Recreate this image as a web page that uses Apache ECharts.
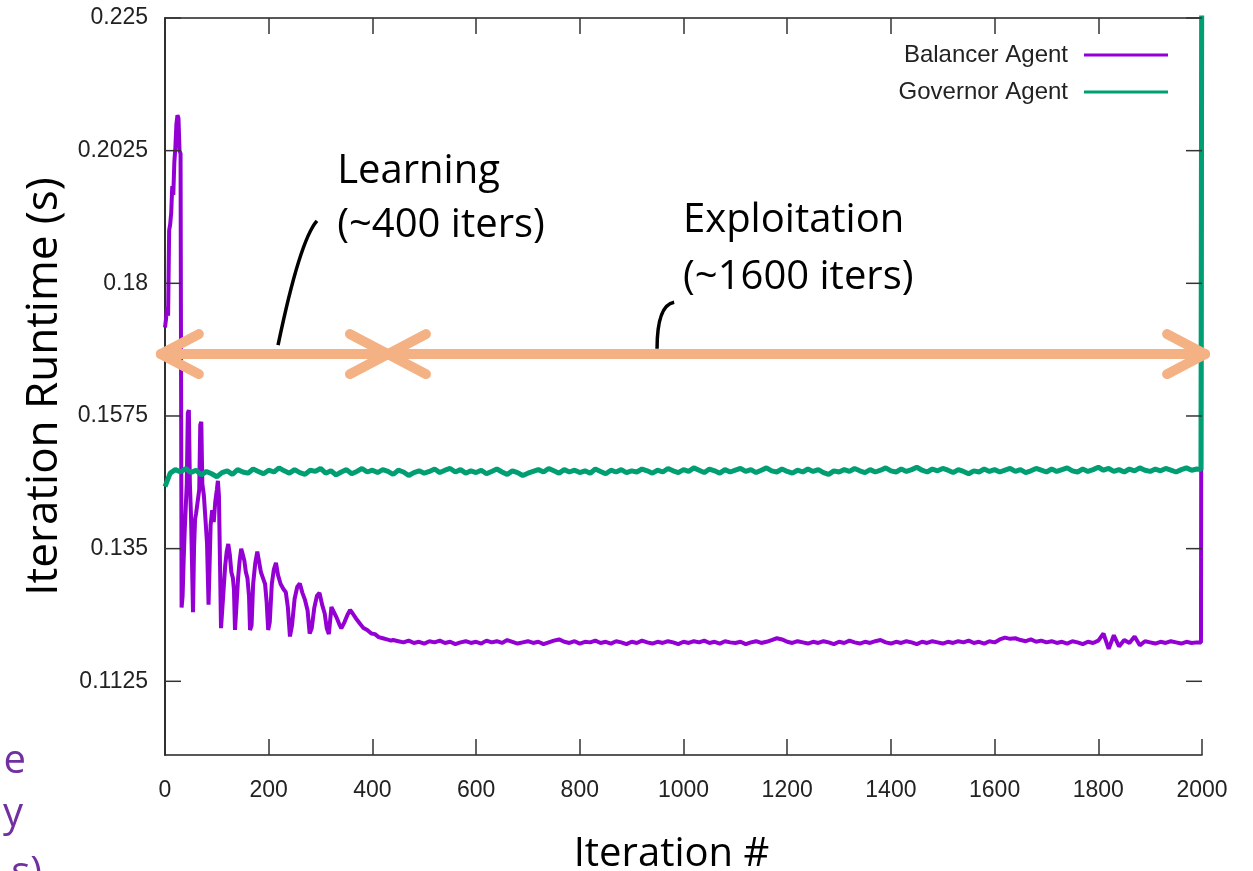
<!DOCTYPE html>
<html>
<head>
<meta charset="utf-8">
<script src="https://cdn.jsdelivr.net/npm/echarts@6/dist/echarts.min.js"></script>
<style>
	html, body { margin: 0; padding: 0; background: #fff; }
	#runtime_chart { width: 1253px; height: 871px; }
</style>
</head>
<body>
<div id="runtime_chart"></div>
<script>
// learning phase of the balancer agent, read point by point (iteration, seconds)
var balancerLearnIters = [
	0, 2, 4, 6, 8, 10, 12, 14, 16, 18, 20, 22, 24, 26, 28, 30, 32, 34, 36, 38,
	40, 42, 44, 46, 48, 50, 52, 54, 56, 58, 60, 63, 66, 68, 70, 72, 75, 78, 81, 84,
	86, 88, 91, 94, 97, 100, 102, 104, 106, 108, 111, 113, 116, 119, 122, 125, 128, 131, 133, 135,
	138, 141, 144, 147, 150, 153, 156, 159, 162, 164, 167, 170, 174, 178, 181, 185, 189, 193, 196, 199,
	202, 206, 210, 214, 218, 223, 228, 233, 237, 241, 245, 250, 255, 260, 265, 270, 275, 279, 283, 288,
	293, 298, 303, 308, 312, 316, 321, 326, 331, 336, 340, 346, 352, 357, 362, 368, 375, 382, 390, 398,
	405, 412, 420, 428, 436
];
var balancerLearnValues = [
	0.1725, 0.1740, 0.1760, 0.1745, 0.1890, 0.1900, 0.1920, 0.1965, 0.1950, 0.2005, 0.2030, 0.2070, 0.2085, 0.2080, 0.2025, 0.2020, 0.1250, 0.1270, 0.1330, 0.1380,
	0.1420, 0.1460, 0.1580, 0.1585, 0.1460, 0.1410, 0.1330, 0.1242, 0.1350, 0.1400, 0.1410, 0.1430, 0.1450, 0.1560, 0.1565, 0.1460, 0.1440, 0.1400, 0.1360, 0.1255,
	0.1252, 0.1390, 0.1415, 0.1395, 0.1430, 0.1450, 0.1465, 0.1440, 0.1330, 0.1215, 0.1212, 0.1280, 0.1320, 0.1345, 0.1358, 0.1340, 0.1310, 0.1300, 0.1280, 0.1212,
	0.1215, 0.1300, 0.1330, 0.1350, 0.1340, 0.1330, 0.1310, 0.1300, 0.1270, 0.1212, 0.1220, 0.1290, 0.1325, 0.1345, 0.1330, 0.1310, 0.1300, 0.1290, 0.1260, 0.1212,
	0.1225, 0.1290, 0.1315, 0.1326, 0.1305, 0.1290, 0.1282, 0.1276, 0.1250, 0.1201, 0.1220, 0.1265, 0.1285, 0.1291, 0.1275, 0.1263, 0.1245, 0.1206, 0.1215, 0.1250,
	0.1270, 0.1275, 0.1255, 0.1240, 0.1215, 0.1205, 0.1251, 0.1242, 0.1233, 0.1222, 0.1215, 0.1225, 0.1238, 0.1246, 0.1240, 0.1232, 0.1224, 0.1216, 0.1212, 0.1206,
	0.1205, 0.1200, 0.1198, 0.1196, 0.1194
];

// exploitation phase, one reading every 10 iterations from 440 to 1990 (units of 0.0001 s)
var balancerSteadyStart = 440;
var balancerSteady = [
	1195, 1193, 1191, 1194, 1190, 1192, 1189, 1193, 1191, 1194,
	1190, 1192, 1188, 1191, 1193, 1190, 1192, 1189, 1194, 1191,
	1193, 1190, 1195, 1192, 1189, 1191, 1193, 1190, 1192, 1188,
	1191, 1194, 1196, 1192, 1190, 1193, 1189, 1192, 1191, 1194,
	1190, 1192, 1189, 1193, 1191, 1188, 1192, 1190, 1194, 1191,
	1189, 1192, 1190, 1193, 1191, 1188, 1192, 1190, 1193, 1191,
	1194, 1190, 1192, 1189, 1193, 1191, 1190, 1192, 1188, 1191,
	1193, 1190, 1192, 1195, 1198, 1196, 1192, 1190, 1193, 1191,
	1189, 1192, 1190, 1193, 1191, 1188, 1192, 1190, 1194, 1191,
	1189, 1192, 1190, 1193, 1195, 1191, 1189, 1192, 1190, 1193,
	1191, 1188, 1192, 1190, 1193, 1191, 1189, 1192, 1190, 1193,
	1191, 1194, 1190, 1192, 1189, 1193, 1191, 1196, 1199, 1197,
	1198, 1195, 1193, 1196, 1192, 1194, 1191, 1193, 1190, 1192,
	1189, 1193, 1191, 1188, 1192, 1190, 1194, 1206, 1180, 1203,
	1184, 1195, 1190, 1201, 1186, 1193, 1191, 1189, 1192, 1190,
	1193, 1191, 1189, 1192, 1190, 1191
];
// last iterations: the final run shoots off the top of the plot
var balancerTail = [[1998, 0.1191], [2000, 0.26]];

// governor agent, one reading every 10 iterations from 0 to 1990 (units of 0.0001 s)
var governorStep = 10;
var governorValues = [
	1455,
	1478, 1484, 1480, 1486, 1479, 1483, 1475, 1481, 1477, 1472,
	1479, 1482, 1476, 1484, 1480, 1478, 1485, 1481, 1477, 1483,
	1480, 1487, 1482, 1478, 1484, 1479, 1476, 1483, 1481, 1486,
	1478, 1482, 1475, 1480, 1484, 1477, 1481, 1486, 1480, 1483,
	1479, 1484, 1481, 1476, 1483, 1480, 1474, 1479, 1482, 1478,
	1481, 1485, 1479, 1483, 1486, 1480, 1484, 1478, 1482, 1479,
	1483, 1477, 1481, 1485, 1480, 1476, 1482, 1479, 1474, 1478,
	1481, 1484, 1480, 1486, 1482, 1478, 1484, 1480, 1483, 1479,
	1482, 1478, 1485, 1481, 1477, 1483, 1480, 1484, 1479, 1482,
	1480, 1485, 1482, 1478, 1483, 1480, 1486, 1482, 1479, 1484,
	1481, 1487, 1483, 1479, 1485, 1482, 1478, 1484, 1480, 1483,
	1486, 1481, 1484, 1479, 1483, 1487, 1482, 1480, 1485, 1481,
	1478, 1483, 1480, 1485, 1481, 1484, 1479, 1476, 1482, 1480,
	1484, 1481, 1486, 1482, 1479, 1484, 1480, 1483, 1487, 1482,
	1480, 1485, 1481, 1484, 1488, 1483, 1480, 1485, 1482, 1486,
	1483, 1479, 1484, 1481, 1477, 1482, 1480, 1485, 1481, 1484,
	1480, 1483, 1486, 1481, 1484, 1479, 1482, 1486, 1483, 1480,
	1485, 1481, 1484, 1487, 1482, 1480, 1485, 1481, 1484, 1488,
	1483, 1486, 1481, 1484, 1480, 1485, 1482, 1487, 1483, 1481,
	1485, 1482, 1486, 1483, 1480, 1484, 1487, 1483, 1485
];
var governorTail = [[1998, 0.1484], [2000, 0.26]];

var yTickValues = [0.1125, 0.135, 0.1575, 0.18, 0.2025, 0.225];

// annotations (data coordinates)
var arrowLevel = 0.168;
var arrowSpans = [[-8, 430], [430, 2006]];
var callouts = [
	[[218, 0.1695], [260, 0.1873], [293, 0.1906]],
	[[949, 0.1689], [949, 0.1763], [982, 0.1768]]
];
var labels = [
	[332, 0.1990, 'Learning'],
	[332, 0.1898, '(~400 iters)'],
	[999, 0.1907, 'Exploitation'],
	[999, 0.1809, '(~1600 iters)']
];

function balancerData() {
	var out = [];
	for (var i = 0; i < balancerLearnIters.length; i++) {
		out.push([balancerLearnIters[i], balancerLearnValues[i]]);
	}
	for (var j = 0; j < balancerSteady.length; j++) {
		out.push([balancerSteadyStart + j * 10, balancerSteady[j] / 10000]);
	}
	return out.concat(balancerTail);
}

function governorData() {
	var out = governorValues.map(function (v, i) {
		return [i * governorStep, v / 10000];
	});
	return out.concat(governorTail);
}

var tickFont = { fontFamily: 'Liberation Sans', fontSize: 23, color: '#222' };
var tickLine = { color: '#333', width: 1.5 };

function frameAxis(extra) {
	var base = {
		axisLine: { show: true, lineStyle: { color: '#222', width: 1.5 } },
		axisTick: { show: true, inside: true, length: 16, lineStyle: tickLine },
		splitLine: { show: false }
	};
	for (var k in extra) base[k] = extra[k];
	return base;
}

function runtime_chart() {
	var chart = echarts.init(document.getElementById('runtime_chart'));
	chart.setOption({
		animation: false,
		backgroundColor: '#fff',
		grid: { left: 165, right: 51, top: 18, bottom: 116, outerBoundsMode: 'none' },
		legend: {
			orient: 'vertical',
			align: 'right',
			right: 80,
			top: 38,
			icon: 'rect',
			itemWidth: 84,
			itemHeight: 3,
			itemGap: 13,
			textStyle: { fontFamily: 'Liberation Sans', fontSize: 24, color: '#222', padding: [0, 11, 0, 0] },
			data: ['Balancer Agent', 'Governor Agent']
		},
		xAxis: [
			frameAxis({
				type: 'value', min: 0, max: 2000, interval: 200, position: 'bottom',
				axisLabel: Object.assign({ margin: 24, formatter: function (v) { return String(v); } }, tickFont),
				name: 'Iteration #', nameLocation: 'middle', nameGap: 80,
				nameTextStyle: { fontFamily: 'Open Sans', fontSize: 40, color: '#000', padding: [0, 24, 0, 0] }
			}),
			frameAxis({
				type: 'value', min: 0, max: 2000, interval: 200, position: 'top',
				axisLabel: { show: false }
			})
		],
		yAxis: [
			frameAxis({
				type: 'value', min: 0.1, max: 0.225, position: 'left',
				axisTick: { show: false },
				axisLabel: Object.assign({ margin: 17, customValues: yTickValues, formatter: function (v) { return String(v); } }, tickFont),
				name: 'Iteration Runtime (s)', nameLocation: 'middle', nameGap: 85,
				nameTextStyle: { fontFamily: 'Open Sans', fontSize: 44, color: '#000' }
			}),
			frameAxis({
				type: 'value', min: 0.1, max: 0.225, position: 'right',
				axisTick: { show: false },
				axisLabel: { show: false }
			})
		],
		series: [{
			name: 'Balancer Agent',
			type: 'line',
			symbol: 'none',
			color: '#9400d3',
			lineStyle: { width: 4, color: '#9400d3' },
			data: balancerData()
		}, {
			name: 'Governor Agent',
			type: 'line',
			symbol: 'none',
			color: '#009e73',
			lineStyle: { width: 5, color: '#009e73' },
			data: governorData()
		}]
	});

	// ticks, arrows and notes placed through the chart's own scales
	function px(x, y) {
		return chart.convertToPixel({ seriesIndex: 0 }, [x, y]);
	}
	var orange = '#f4b183';
	var elements = [];
	yTickValues.forEach(function (v) {
		var l = px(0, v), r = px(2000, v);
		elements.push({ type: 'line', z: 50, shape: { x1: l[0], y1: l[1], x2: l[0] + 16, y2: l[1] },
			style: { stroke: tickLine.color, lineWidth: tickLine.width } });
		elements.push({ type: 'line', z: 50, shape: { x1: r[0] - 16, y1: r[1], x2: r[0], y2: r[1] },
			style: { stroke: tickLine.color, lineWidth: tickLine.width } });
	});
	arrowSpans.forEach(function (span) {
		var a = px(span[0], arrowLevel), b = px(span[1], arrowLevel);
		var dx = 38, dy = 20;
		elements.push({ type: 'polyline', z: 100, shape: { points: [a, b] },
			style: { stroke: orange, lineWidth: 10, lineCap: 'round', fill: null } });
		elements.push({ type: 'polyline', z: 100, shape: { points: [[a[0] + dx, a[1] - dy], a, [a[0] + dx, a[1] + dy]] },
			style: { stroke: orange, lineWidth: 10, lineCap: 'round', lineJoin: 'round', fill: null } });
		elements.push({ type: 'polyline', z: 100, shape: { points: [[b[0] - dx, b[1] - dy], b, [b[0] - dx, b[1] + dy]] },
			style: { stroke: orange, lineWidth: 10, lineCap: 'round', lineJoin: 'round', fill: null } });
	});
	callouts.forEach(function (c) {
		var s = px(c[0][0], c[0][1]), cp = px(c[1][0], c[1][1]), e = px(c[2][0], c[2][1]);
		elements.push({ type: 'bezierCurve', z: 100,
			shape: { x1: s[0], y1: s[1], cpx1: cp[0], cpy1: cp[1], x2: e[0], y2: e[1] },
			style: { stroke: '#000', lineWidth: 3.5, fill: null } });
	});
	labels.forEach(function (l) {
		var p = px(l[0], l[1]);
		elements.push({ type: 'text', z: 100, x: p[0], y: p[1],
			style: { text: l[2], fontFamily: 'Open Sans', fontSize: 40, fill: '#000', align: 'left', verticalAlign: 'middle' } });
	});
	// fragments of slide text cut off at the left edge
	[['e', 26, 762], ['y', 23, 815], ['s)', 42, 874]].forEach(function (f) {
		elements.push({ type: 'text', z: 100, x: f[1], y: f[2],
			style: { text: f[0], fontFamily: 'Open Sans', fontSize: 40, fill: '#7030a0', align: 'right', verticalAlign: 'middle' } });
	});
	chart.setOption({ graphic: { elements: elements } });
}

runtime_chart();
</script>
</body>
</html>
